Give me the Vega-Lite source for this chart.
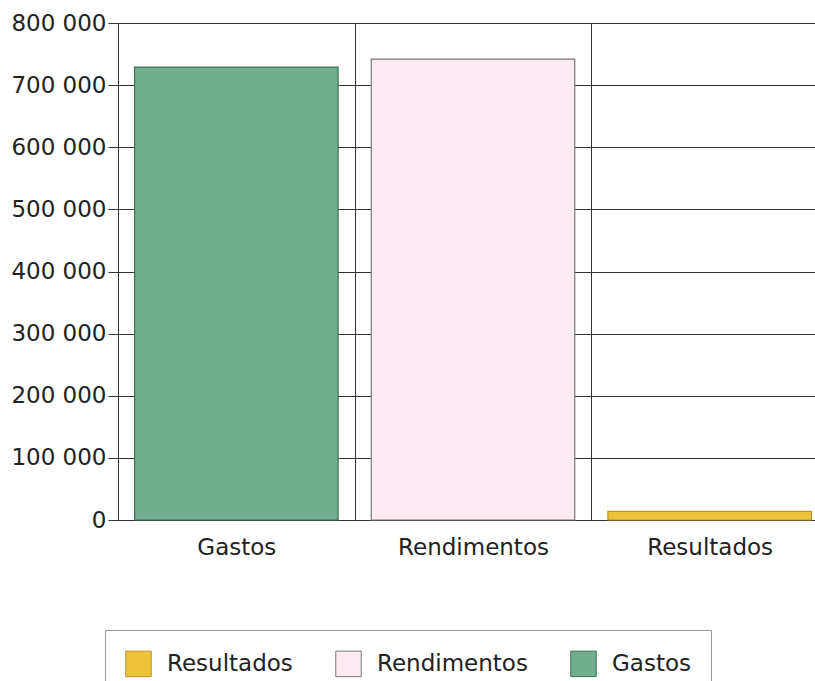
{
  "$schema": "https://vega.github.io/schema/vega-lite/v6.json",
  "autosize": {"type": "none"},
  "width": 710,
  "height": 497,
  "padding": {"left": 118, "top": 23, "right": 0, "bottom": 161},
  "background": "white",
  "data": {"values": [
    {"categoria": "Gastos", "valor": 729000},
    {"categoria": "Rendimentos", "valor": 742000},
    {"categoria": "Resultados", "valor": 14000}
  ]},
  "mark": {"type": "bar", "strokeWidth": 1.2, "width": {"band": 0.86}},
  "encoding": {
    "x": {
      "field": "categoria", "type": "nominal", "sort": ["Gastos", "Rendimentos", "Resultados"],
      "scale": {"paddingInner": 0, "paddingOuter": 0},
      "axis": {"title": null, "labelAngle": 0, "grid": true, "tickBand": "extent", "gridColor": "#333", "gridOpacity": 1, "ticks": false, "domainColor": "#333", "labelFont": "DejaVu Sans", "labelFontSize": 23, "labelColor": "#222", "labelPadding": 16}
    },
    "y": {
      "field": "valor", "type": "quantitative",
      "scale": {"domain": [0, 800000]},
      "axis": {"title": null, "values": [0, 100000, 200000, 300000, 400000, 500000, 600000, 700000, 800000], "labelOverlap": false, "labelExpr": "replace(format(datum.value, ',d'), ',', ' ')", "gridColor": "#333", "gridOpacity": 1, "domainColor": "#333", "tickColor": "#333", "tickSize": 10, "labelFont": "DejaVu Sans", "labelFontSize": 23, "labelColor": "#222", "labelPadding": 2}
    },
    "fill": {
      "field": "categoria", "type": "nominal",
      "scale": {"domain": ["Resultados", "Rendimentos", "Gastos"], "range": ["#eec23a", "#fcebf2", "#6fae8e"]},
      "legend": {"title": null, "orient": "none", "legendX": -13, "legendY": 607, "direction": "horizontal", "symbolType": "square", "symbolSize": 650, "symbolStrokeColor": "#666", "symbolStrokeWidth": 1, "labelFont": "DejaVu Sans", "labelFontSize": 23, "labelColor": "#222", "labelOffset": 15, "columnPadding": 40, "padding": 20, "strokeColor": "#999", "fillColor": "white"}
    },
    "stroke": {
      "field": "categoria", "type": "nominal",
      "scale": {"domain": ["Resultados", "Rendimentos", "Gastos"], "range": ["#b8942a", "#777777", "#3f6f58"]},
      "legend": null
    }
  },
  "config": {"view": {"stroke": "#333", "strokeWidth": 1}}
}
